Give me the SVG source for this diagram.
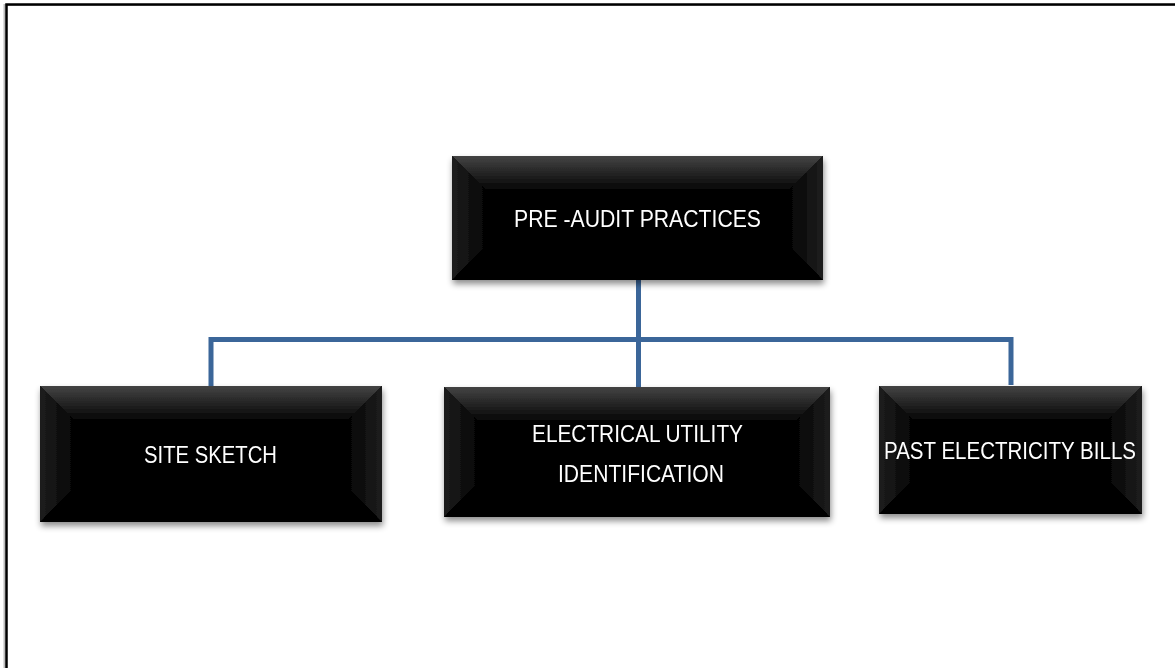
<svg xmlns="http://www.w3.org/2000/svg" width="1175" height="668" viewBox="0 0 1175 668">
<defs>
<linearGradient id="gTop" x1="0" y1="0" x2="0" y2="1">
<stop offset="0" stop-color="#444"/>
<stop offset="1" stop-color="#030303"/>
</linearGradient>
<linearGradient id="gL" x1="0" y1="0" x2="1" y2="0">
<stop offset="0" stop-color="#1e1e1e"/>
<stop offset="1" stop-color="#030303"/>
</linearGradient>
<linearGradient id="gR" x1="1" y1="0" x2="0" y2="0">
<stop offset="0" stop-color="#1e1e1e"/>
<stop offset="1" stop-color="#030303"/>
</linearGradient>
<filter id="sh" x="-10%" y="-10%" width="120%" height="130%">
<feDropShadow dx="1" dy="4" stdDeviation="3" flood-color="#000" flood-opacity="0.45"/>
</filter>
</defs>
<style>
.base{fill:#000}
.top{fill:url(#gTop)}
.l{fill:url(#gL)}
.r{fill:url(#gR)}
.bot{fill:#000}
.mid{fill:#030303}
.lbl{font-family:"Liberation Sans",Arial,sans-serif;font-size:24px;fill:#fff}
.conn{fill:none;stroke:#3B6699;stroke-width:5}
</style>
<rect x="0" y="0" width="1175" height="668" fill="#fff"/>
<path d="M4.5,670 V5 H1177" fill="none" stroke="#bbb" stroke-width="2"/>
<path d="M6.5,670 V4.5 H1177" fill="none" stroke="#000" stroke-width="2.5"/>
<g id="connectors">
<path class="conn" d="M638.5,280 V339.5"/>
<path class="conn" d="M211,386 V339.5 H1011 V385"/>
<path class="conn" d="M638.5,339.5 V387"/>
</g>
<g id="node-pre-audit" filter="url(#sh)">
<rect class="base" x="452" y="156" width="371" height="124"/>
<polygon class="top" points="452,156 823,156 788,191 487,191"/>
<polygon class="l" points="452,156 487,191 487,245 452,280"/>
<polygon class="r" points="823,156 788,191 788,245 823,280"/>
<polygon class="bot" points="452,280 487,245 788,245 823,280"/>
<rect class="mid" x="487" y="191" width="301" height="54"/>
<text class="lbl" x="637.5" y="227" text-anchor="middle" textLength="247" lengthAdjust="spacingAndGlyphs">PRE -AUDIT PRACTICES</text>
</g>
<g id="node-site-sketch" filter="url(#sh)">
<rect class="base" x="40" y="386" width="342" height="136"/>
<polygon class="top" points="40,386 382,386 347,421 75,421"/>
<polygon class="l" points="40,386 75,421 75,487 40,522"/>
<polygon class="r" points="382,386 347,421 347,487 382,522"/>
<polygon class="bot" points="40,522 75,487 347,487 382,522"/>
<rect class="mid" x="75" y="421" width="272" height="66"/>
<text class="lbl" x="210.5" y="463" text-anchor="middle" textLength="133" lengthAdjust="spacingAndGlyphs">SITE SKETCH</text>
</g>
<g id="node-electrical" filter="url(#sh)">
<rect class="base" x="444" y="387" width="386" height="130"/>
<polygon class="top" points="444,387 830,387 795,422 479,422"/>
<polygon class="l" points="444,387 479,422 479,482 444,517"/>
<polygon class="r" points="830,387 795,422 795,482 830,517"/>
<polygon class="bot" points="444,517 479,482 795,482 830,517"/>
<rect class="mid" x="479" y="422" width="316" height="60"/>
<text class="lbl" x="637.5" y="442" text-anchor="middle" textLength="211" lengthAdjust="spacingAndGlyphs">ELECTRICAL UTILITY</text>
<text class="lbl" x="641" y="482" text-anchor="middle" textLength="166" lengthAdjust="spacingAndGlyphs">IDENTIFICATION</text>
</g>
<g id="node-past-bills" filter="url(#sh)">
<rect class="base" x="879" y="386" width="263" height="128"/>
<polygon class="top" points="879,386 1142,386 1107,421 914,421"/>
<polygon class="l" points="879,386 914,421 914,479 879,514"/>
<polygon class="r" points="1142,386 1107,421 1107,479 1142,514"/>
<polygon class="bot" points="879,514 914,479 1107,479 1142,514"/>
<rect class="mid" x="914" y="421" width="193" height="58"/>
<text class="lbl" x="1010" y="459" text-anchor="middle" textLength="252" lengthAdjust="spacingAndGlyphs">PAST ELECTRICITY BILLS</text>
</g>
</svg>
